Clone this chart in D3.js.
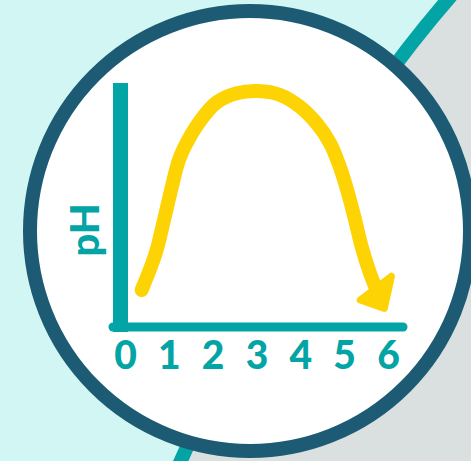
<!DOCTYPE html>
<html>
<head>
<meta charset="utf-8">
<script src="https://cdn.jsdelivr.net/npm/d3@7"></script>
<style>
  body { margin: 0; }
  svg { display: block; }
</style>
</head>
<body>
<div class="interactive-wrapper"></div>
<script>
// data
const xTicks = [0, 1, 2, 3, 4, 5, 6];
const yLabel = 'pH';
const curveX = [0.38, 0.70, 0.89, 1.07, 1.23, 1.44, 1.73, 2.09, 2.55, 3.04, 3.54, 3.99, 4.37, 4.68, 4.90, 5.09, 5.25, 5.40, 5.59, 5.74];
const curveY = [2.17, 4.32, 6.27, 8.22, 9.78, 10.95, 12.13, 13.15, 13.69, 13.82, 13.59, 12.90, 11.93, 10.76, 9.39, 7.83, 6.27, 4.70, 3.15, 2.17];

const width = 471;
const height = 461;

const teal = '#03a4a5';
const navy = '#1d5b74';
const yellow = '#fed304';

const svg = d3.select('.interactive-wrapper').append('svg')
  .attr('width', width)
  .attr('height', height);

// background
svg.append('rect')
  .attr('width', width)
  .attr('height', height)
  .attr('fill', '#d2f6f3');

const stripe = 'M 465,-20 C 312,150 250,311 172,480';

svg.append('path')
  .attr('d', stripe + ' L 500,480 L 500,-20 Z')
  .attr('fill', '#d9e0df');

svg.append('path')
  .attr('d', stripe)
  .attr('fill', 'none')
  .attr('stroke', teal)
  .attr('stroke-width', 14);

// badge
svg.append('circle')
  .attr('cx', 250)
  .attr('cy', 231)
  .attr('r', 220)
  .attr('fill', '#fff')
  .attr('stroke', navy)
  .attr('stroke-width', 14);

let xScale = d3.scaleLinear()
  .domain([0, 6])
  .range([125, 388]);

let yScale = d3.scaleLinear()
  .domain([0, 14])
  .range([327, 88]);

// axis bars
svg.append('line')
  .attr('x1', xScale.range()[0] - 12)
  .attr('x2', xScale.range()[1] + 15)
  .attr('y1', yScale(0))
  .attr('y2', yScale(0))
  .attr('stroke', teal)
  .attr('stroke-width', 9)
  .attr('stroke-linecap', 'round');

svg.append('line')
  .attr('x1', xScale.range()[0] - 4.5)
  .attr('x2', xScale.range()[0] - 4.5)
  .attr('y1', yScale.range()[1] - 5)
  .attr('y2', yScale(0) + 5)
  .attr('stroke', teal)
  .attr('stroke-width', 15);

const xAxis = svg.append('g')
  .attr('transform', 'translate(0,' + yScale(0) + ')')
  .call(d3.axisBottom(xScale)
    .tickValues(xTicks)
    .tickSize(0)
    .tickPadding(14)
    .tickFormat(d => d)
  );

xAxis.select('.domain').remove();

xAxis.selectAll('.tick text')
  .attr('fill', teal)
  .style('font-family', 'Lato, "Open Sans", sans-serif')
  .style('font-weight', '900')
  .style('font-size', '39px');

svg.append('text')
  .attr('transform', 'translate(99,230) rotate(-90)')
  .attr('text-anchor', 'middle')
  .attr('fill', teal)
  .style('font-family', 'Lato, "Open Sans", sans-serif')
  .style('font-weight', '900')
  .style('font-size', '40px')
  .text(yLabel);

// arrow head
svg.append('defs').append('marker')
  .attr('id', 'head')
  .attr('markerUnits', 'userSpaceOnUse')
  .attr('viewBox', '-30 -30 60 60')
  .attr('markerWidth', 60)
  .attr('markerHeight', 60)
  .attr('refX', 0)
  .attr('refY', 0)
  .attr('orient', 'auto')
  .append('path')
  .attr('d', 'M -7,-19 L 20,0 L 3,19 Z')
  .attr('fill', yellow)
  .attr('stroke', yellow)
  .attr('stroke-width', 7)
  .attr('stroke-linejoin', 'round');

const points = curveX.map((d, i) => ({ x: d, y: curveY[i] }));

let line = d3.line()
  .x(d => xScale(d.x))
  .y(d => yScale(d.y))
  .curve(d3.curveCatmullRom.alpha(0.5));

svg.append('path')
  .datum(points)
  .attr('d', line)
  .attr('fill', 'none')
  .attr('stroke', yellow)
  .attr('stroke-width', 14)
  .attr('stroke-linecap', 'round')
  .attr('marker-end', 'url(#head)');
</script>
</body>
</html>
